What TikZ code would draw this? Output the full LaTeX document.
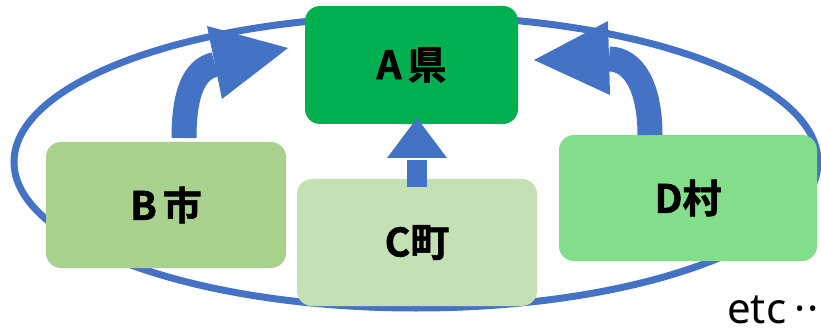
\documentclass[tikz,border=0pt]{standalone}
\usepackage{fontspec}
\setmainfont{Noto Sans CJK JP}[BoldFont={Noto Sans CJK JP Bold},BoldFeatures={FakeBold=1.6}]
\newfontfamily\latinfont{Noto Sans}
\definecolor{arrowblue}{HTML}{4472C4}
\definecolor{agreen}{HTML}{00B050}
\definecolor{bgreen}{HTML}{A9D18E}
\definecolor{cgreen}{HTML}{C5E0B4}
\definecolor{dgreen}{HTML}{82DE8A}
\begin{document}
\begin{tikzpicture}[x=1pt,y=-1pt,
  box/.style={rounded corners=15pt, inner sep=0pt, text=black,
    font=\bfseries\fontsize{39}{44}\selectfont},
  blk/.style={fill=arrowblue, draw=none},
  shaft/.style={draw=arrowblue, line cap=butt}]
\useasboundingbox (0,0) rectangle (821,331);
% ring
\draw[draw=arrowblue, line width=7pt] (416,162) ellipse [x radius=402pt, y radius=146pt];
% boxes
\node[box, fill=agreen, minimum width=213pt, minimum height=118pt] (A) at (411.5,65) {A\hspace{6pt}県};
\node[box, fill=bgreen, minimum width=240pt, minimum height=126pt] (B) at (166,205) {B\hspace{6pt}市};
\node[box, fill=cgreen, minimum width=240pt, minimum height=127pt] (C) at (417,242.5) {C町};
\node[box, fill=dgreen, minimum width=258pt, minimum height=126pt] (D) at (688,198) {D村};
% C -> A straight block arrow
\coordinate (cs) at (417,187);
\coordinate (cb) at (417,158);
\coordinate (ct) at (417,118);
\fill[blk] ([xshift=-10pt]cs) rectangle ([xshift=10pt,yshift=-2pt]cb);
\fill[blk] ([xshift=-30pt]cb) -- ([xshift=30pt]cb) -- (ct) -- cycle;
% B -> A curved block arrow
\coordinate (bs) at (184,138);
\coordinate (be) at (215,64.5);
\draw[shaft, line width=25pt] (bs) .. controls (184,96) and (193,69) .. (be);
\fill[blk] (207,26) -- (288,48) -- (222,99) -- cycle;
% D -> A curved block arrow
\coordinate (ds) at (650,135);
\coordinate (de) at (609,59);
\draw[shaft, line width=25pt] (ds) .. controls (650,88) and (634,59) .. (de);
\fill[blk] (608,21) -- (534,60) -- (610,95) -- cycle;
% etc
\node[anchor=base west, inner sep=0pt, font=\latinfont\fontsize{42}{46}\selectfont] (etc) at (727,323) {etc\kern8pt·\kern2pt·\kern2pt·};
\end{tikzpicture}
\end{document}
